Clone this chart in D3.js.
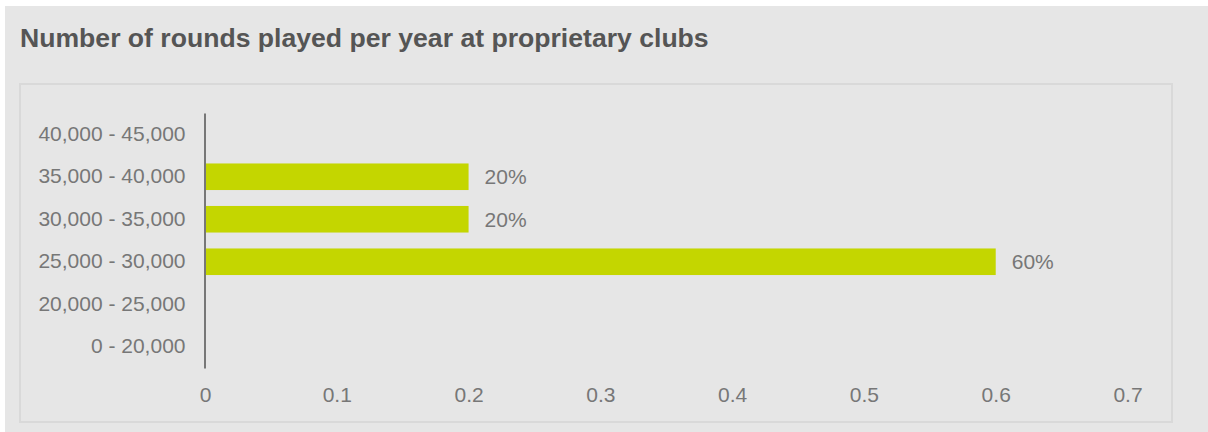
<!DOCTYPE html>
<html>
<head>
<meta charset="utf-8">
<script src="https://cdn.jsdelivr.net/npm/d3@7"></script>
<style>
  html, body { margin: 0; padding: 0; background: #ffffff; }
  svg { display: block; font-family: "Liberation Sans", Arial, sans-serif; }
</style>
</head>
<body>
<svg id="chart" width="1208" height="432"></svg>
<script>
// Share of proprietary clubs by annual rounds played
const categories = ["40,000 - 45,000", "35,000 - 40,000", "30,000 - 35,000", "25,000 - 30,000", "20,000 - 25,000", "0 - 20,000"];
const shares = [0, 0.2, 0.2, 0.6, 0, 0];
const xTicks = [0, 0.1, 0.2, 0.3, 0.4, 0.5, 0.6, 0.7];
const title = "Number of rounds played per year at proprietary clubs";

const labelFont = 21;
const svg = d3.select("#chart");

// Card background and inner plot frame
svg.append("rect").attr("x", 5).attr("y", 6).attr("width", 1203).attr("height", 426).attr("fill", "#e6e6e6");
svg.append("rect").attr("x", 20).attr("y", 84).attr("width", 1152).attr("height", 338)
  .attr("fill", "none").attr("stroke", "#d9d9d9").attr("stroke-width", 2);

svg.append("text").attr("x", 20).attr("y", 47)
  .attr("font-size", 26.6).attr("font-weight", "bold").attr("fill", "#555555")
  .text(title);

const x = d3.scaleLinear().domain([0, 0.7]).range([205, 1127.5]);
const y = d3.scaleBand().domain(categories).range([113, 368]).paddingInner(0.375).paddingOuter(0.1875);

const rows = categories.map((c, i) => ({ c, v: shares[i] })).filter(d => d.v > 0);

// Bars
svg.append("g").selectAll("rect")
  .data(rows)
  .join("rect")
  .attr("x", x(0))
  .attr("y", d => y(d.c))
  .attr("width", d => x(d.v) - x(0))
  .attr("height", y.bandwidth())
  .attr("fill", "#c4d600");

// Value labels
svg.append("g").selectAll("text")
  .data(rows)
  .join("text")
  .attr("x", d => x(d.v) + 16)
  .attr("y", d => y(d.c) + y.bandwidth() / 2)
  .attr("dy", "0.35em")
  .attr("font-size", labelFont).attr("fill", "#777777")
  .text(d => d3.format(".0%")(d.v));

// Category axis
const yAxis = svg.append("g").attr("transform", `translate(${x(0) - 0.5},0)`)
  .call(d3.axisLeft(y).tickSize(0).tickPadding(19));
yAxis.select(".domain").attr("stroke", "#777777").attr("stroke-width", 2);
yAxis.selectAll("text").attr("font-size", labelFont).attr("fill", "#777777").attr("font-family", "Liberation Sans, Arial, sans-serif");

// Value axis (labels only)
const xAxis = svg.append("g").attr("transform", "translate(0,368)")
  .call(d3.axisBottom(x).tickValues(xTicks).tickFormat(d3.format("")).tickSize(0).tickPadding(19));
xAxis.select(".domain").remove();
xAxis.selectAll("text").attr("font-size", labelFont).attr("fill", "#777777").attr("font-family", "Liberation Sans, Arial, sans-serif");
</script>
</body>
</html>
